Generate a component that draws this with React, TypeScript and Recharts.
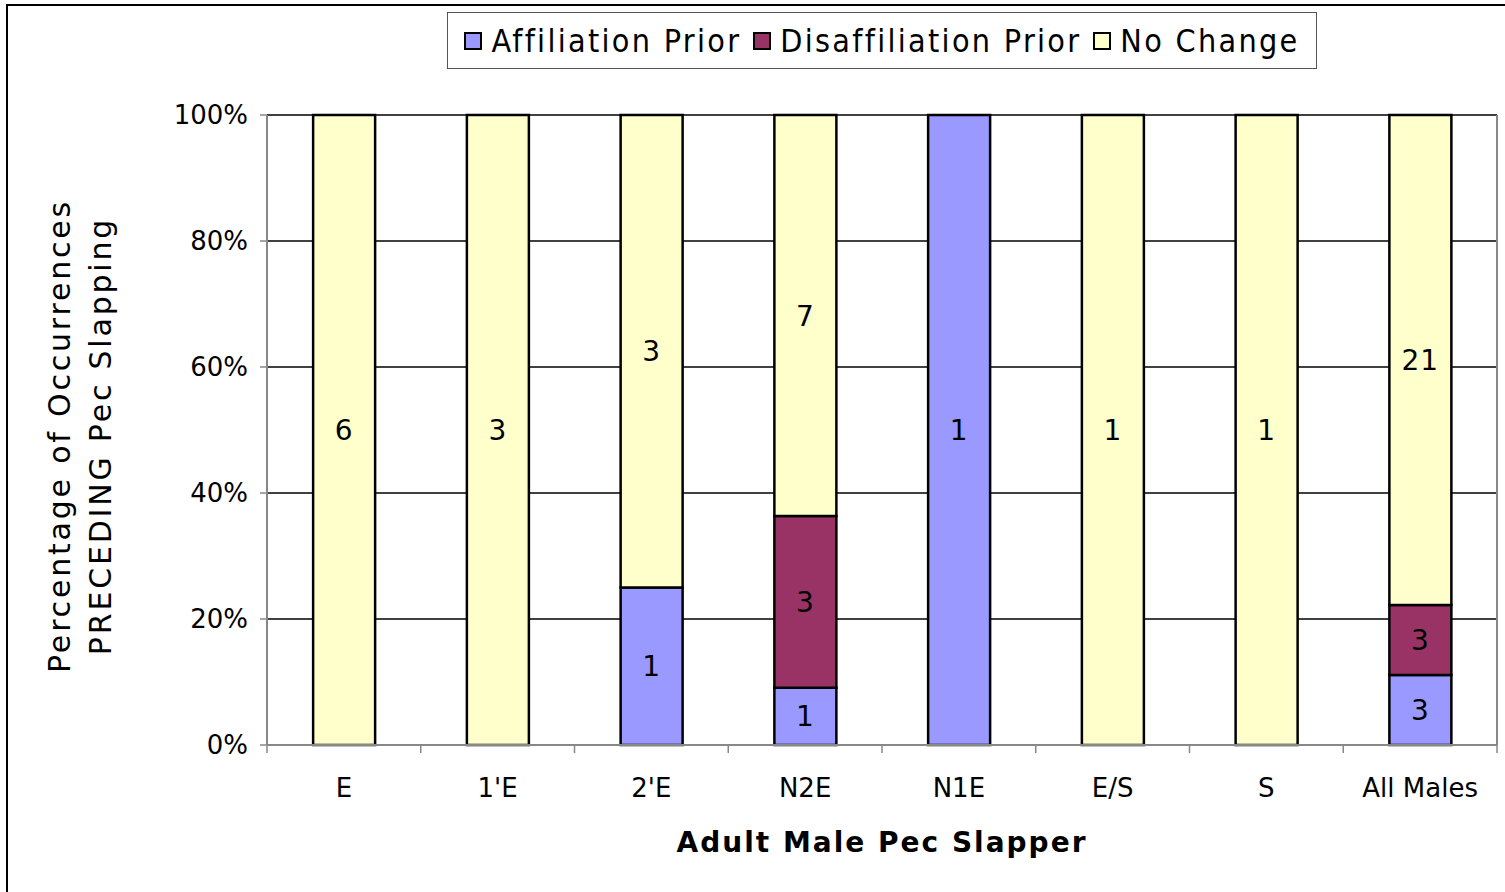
import {
  BarChart,
  Bar,
  XAxis,
  YAxis,
  CartesianGrid,
  Legend,
  LabelList,
} from 'recharts'

const CATEGORIES = ['E', "1'E", "2'E", 'N2E', 'N1E', 'E/S', 'S', 'All Males']
const AFFILIATION = [0, 0, 1, 1, 1, 0, 0, 3]
const DISAFFILIATION = [0, 0, 0, 3, 0, 0, 0, 3]
const NO_CHANGE = [6, 3, 3, 7, 0, 1, 1, 21]
const Y_TICKS = [0, 0.2, 0.4, 0.6, 0.8, 1]

const SERIES = [
  { key: 'aff', label: 'Affiliation Prior', color: '#9999FF' },
  { key: 'dis', label: 'Disaffiliation Prior', color: '#993366' },
  { key: 'none', label: 'No Change', color: '#FFFFCC' },
] as const

const rows = CATEGORIES.map((name, i) => ({
  name,
  aff: AFFILIATION[i],
  dis: DISAFFILIATION[i],
  none: NO_CHANGE[i],
}))

const FONT = '"DejaVu Sans", Verdana, sans-serif'
const GRAY = '#888888'

// count labels, blank for empty segments
const countLabel = (key: 'aff' | 'dis' | 'none') => (props: any) => {
  const vb = props.viewBox ?? props
  const { x, y, width, height } = vb
  let v = props.payload && props.payload[key] != null ? props.payload[key] : props.value
  if (Array.isArray(v)) v = null
  if (!v || !height) return null
  return (
    <text
      x={x + width / 2}
      y={y + height / 2}
      dy="0.36em"
      textAnchor="middle"
      fontSize={28}
      fontFamily={FONT}
      letterSpacing={1}
      fill="#000"
    >
      {v}
    </text>
  )
}

// category label plus tick marks on the band edges
const CategoryTick = (props: any) => {
  const { x, y, payload, width, visibleTicksCount, index } = props
  const bw = width / (visibleTicksCount || CATEGORIES.length)
  const axisY = y - 34
  return (
    <g>
      <line x1={x - bw / 2} x2={x - bw / 2} y1={axisY} y2={axisY + 8} stroke={GRAY} strokeWidth={1.5} />
      {index === CATEGORIES.length - 1 && (
        <line x1={x + bw / 2} x2={x + bw / 2} y1={axisY} y2={axisY + 8} stroke={GRAY} strokeWidth={1.5} />
      )}
      <text x={x} y={y} dy="0.71em" textAnchor="middle" fontSize={26} fontFamily={FONT} fill="#000">
        {payload.value}
      </text>
    </g>
  )
}

function LegendBox() {
  return (
    <div
      style={{
        boxSizing: 'border-box',
        height: 57,
        border: '1.5px solid #555',
        background: '#fff',
        display: 'flex',
        alignItems: 'center',
        justifyContent: 'center',
        gap: 12,
        fontFamily: '"DejaVu Sans Condensed", "DejaVu Sans", sans-serif',
        fontSize: 32,
        letterSpacing: 2.3,
        color: '#000',
      }}
    >
      {SERIES.map(s => (
        <span key={s.key} style={{ display: 'flex', alignItems: 'center' }}>
          <span
            style={{
              width: 14,
              height: 14,
              border: '2px solid #000',
              background: s.color,
              marginRight: 9,
              display: 'inline-block',
            }}
          />
          <span style={{ lineHeight: 1 }}>{s.label}</span>
        </span>
      ))}
    </div>
  )
}

const yTitle = (props: any) => {
  const vb = props.viewBox
  const cy = vb.y + vb.height / 2 + 6
  const common = {
    textAnchor: 'middle' as const,
    fontSize: 30,
    fontFamily: FONT,
    letterSpacing: 2.8,
    fill: '#000',
  }
  return (
    <g>
      <text {...common} x={70} y={cy} transform={`rotate(-90 70 ${cy})`}>
        Percentage of Occurrences
      </text>
      <text {...common} x={111} y={cy} transform={`rotate(-90 111 ${cy})`}>
        PRECEDING Pec Slapping
      </text>
    </g>
  )
}

const xTitle = (props: any) => {
  const vb = props.viewBox
  return (
    <text
      x={vb.x + vb.width / 2}
      y={vb.y + 107}
      textAnchor="middle"
      fontSize={28}
      fontWeight="bold"
      fontFamily={FONT}
      letterSpacing={2}
      fill="#000"
    >
      Adult Male Pec Slapper
    </text>
  )
}

export default function App() {
  return (
    <div
      style={{
        position: 'absolute',
        left: 0,
        top: 0,
        width: 1505,
        height: 892,
        overflow: 'hidden',
        background: '#fff',
      }}
    >
      <div
        style={{
          position: 'absolute',
          left: 6,
          top: 4,
          width: 1600,
          height: 1000,
          border: '2px solid #000',
          pointerEvents: 'none',
        }}
      />
      <div style={{ position: 'absolute', left: 0, top: 0 }}>
        <BarChart
          width={1505}
          height={892}
          data={rows}
          stackOffset="expand"
          barCategoryGap="30%"
          margin={{ top: 115, right: 0, left: 0, bottom: 0 }}
        >
          <CartesianGrid vertical={false} stroke="#000" strokeWidth={1.4} />
          <XAxis
            dataKey="name"
            height={147}
            tickLine={false}
            tickSize={8}
            tickMargin={26}
            axisLine={{ stroke: GRAY, strokeWidth: 2 }}
            tick={<CategoryTick />}
            interval={0}
            label={xTitle}
          />
          <XAxis
            xAxisId="top"
            orientation="top"
            dataKey="name"
            height={0}
            tick={false}
            tickLine={false}
            axisLine={{ stroke: GRAY, strokeWidth: 2 }}
          />
          <YAxis
            width={267}
            domain={[0, 1]}
            ticks={Y_TICKS}
            tickFormatter={v => `${Math.round(v * 100)}%`}
            tickSize={7}
            tickMargin={12}
            tickLine={{ stroke: GRAY, strokeWidth: 1.5 }}
            axisLine={{ stroke: GRAY, strokeWidth: 2 }}
            tick={{ fontSize: 26, fill: '#000', fontFamily: FONT }}
            label={yTitle}
          />
          <YAxis
            yAxisId="right"
            orientation="right"
            width={8}
            domain={[0, 1]}
            tick={false}
            tickLine={false}
            axisLine={{ stroke: GRAY, strokeWidth: 2 }}
          />
          <Legend
            verticalAlign="middle"
            content={() => <LegendBox />}
            wrapperStyle={{ top: 12, left: 447, width: 870 }}
          />
          {SERIES.map(s => (
            <Bar
              key={s.key}
              dataKey={s.key}
              name={s.label}
              stackId="a"
              fill={s.color}
              stroke="#000"
              strokeWidth={2.5}
              isAnimationActive={false}
            >
              <LabelList dataKey={s.key} content={countLabel(s.key)} />
            </Bar>
          ))}
        </BarChart>
      </div>
    </div>
  )
}
